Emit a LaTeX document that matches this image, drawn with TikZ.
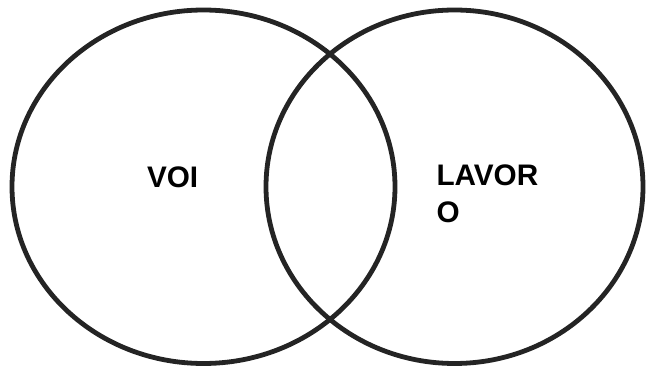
\documentclass[tikz,border=0pt]{standalone}
\usepackage{fontspec}
\setmainfont{Liberation Sans}
\begin{document}
\begin{tikzpicture}[x=1pt,y=1pt,
  ring/.style={draw=ringgray, line width=4.8pt},
  label/.style={inner sep=0pt, outer sep=0pt, font=\bfseries\fontsize{29.7}{36.7}\selectfont, align=left, text=black}]
\definecolor{ringgray}{HTML}{242424}
\useasboundingbox (0,0) rectangle (646,367);
% the two overlapping sets
\draw[ring] (203.5,180.25) ellipse [x radius=191.5, y radius=176.75];
\draw[ring] (454.5,180.25) ellipse [x radius=188.5, y radius=176.75];
% set labels
\node[label, anchor=base west] (voi) at (147,179.7) {VOI};
\node[label, anchor=north west] (lavoro) at (436.5,202) {LAVOR\\O};
\end{tikzpicture}
\end{document}
